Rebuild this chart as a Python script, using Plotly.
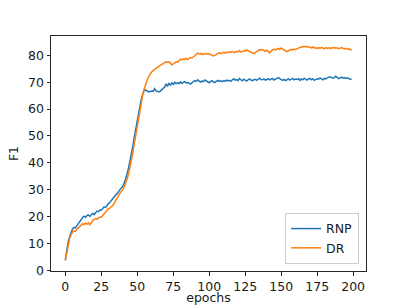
import plotly.graph_objects as go

epochs = list(range(200))

rnp = [
    3.8, 7.5, 10.5, 12.5, 14.3, 15.4, 15.9, 15.8, 16.5, 17.4,
    18.2, 18.9, 19.6, 20.1, 19.7, 20.3, 20.6, 20.0, 20.8, 21.2,
    20.7, 21.5, 22.0, 21.8, 22.4, 22.3, 23.0, 23.6, 23.4, 24.2,
    24.8, 25.3, 26.1, 26.8, 27.4, 28.0, 28.5, 29.4, 30.0, 30.6,
    31.3, 32.5, 34.0, 36.0, 38.2, 40.6, 43.5, 46.5, 49.8, 53.0,
    56.2, 59.4, 62.0, 64.2, 65.8, 67.2, 67.0, 66.6, 66.4, 66.5,
    66.7, 66.6, 67.6, 66.8, 66.5, 66.4, 66.7, 67.2, 67.9, 68.2,
    69.4, 68.6, 69.5, 68.9, 69.7, 69.2, 70.0, 69.4, 69.8, 69.5,
    70.1, 69.6, 69.9, 70.2, 69.7, 69.9, 69.6, 69.3, 69.8, 70.2,
    70.6, 70.3, 70.9, 70.4, 70.0, 70.5, 70.2, 70.8, 70.4, 70.1,
    69.8, 70.3, 70.6, 70.0, 69.9, 70.4, 70.7, 70.3, 70.5, 70.2,
    70.6, 70.4, 70.8, 70.5, 70.7, 70.3, 70.9, 71.3, 70.8, 71.0,
    70.6, 71.4, 70.9, 70.5, 71.1, 70.7, 70.4, 70.9, 71.2, 70.8,
    70.6, 70.9, 71.1, 70.7, 71.3, 71.5, 71.0, 70.9, 71.2, 70.8,
    71.0, 71.3, 70.9, 71.1, 71.4, 70.8, 71.0, 71.2, 71.7, 71.3,
    71.1, 70.7, 71.0, 70.6, 70.9, 71.2, 70.8, 71.1, 71.4, 70.9,
    71.2, 71.0, 71.3, 70.7, 71.2, 70.9, 71.5, 71.1, 70.8, 71.2,
    71.4, 70.9, 71.3, 70.7, 71.0, 71.3, 71.1, 71.6, 71.2, 70.9,
    71.4, 71.2, 71.6, 71.9, 72.0, 71.7, 71.5, 71.8, 72.2, 71.7,
    71.3, 71.6, 71.9, 71.5, 71.7, 71.4, 71.6, 71.3, 71.2, 71.1,
]

dr = [
    3.6, 6.8, 10.2, 11.8, 13.2, 14.2, 14.6, 14.5, 15.2, 15.8,
    16.3, 16.9, 17.3, 17.0, 17.5, 17.1, 17.6, 16.9, 17.8, 18.4,
    18.9, 19.2, 19.0, 19.5, 19.8, 19.7, 20.3, 20.8, 21.4, 22.3,
    23.0, 23.1, 23.6, 24.2, 25.0, 26.1, 27.0, 27.8, 28.7, 29.3,
    30.0, 31.0, 32.3, 34.0, 36.0, 38.4, 41.0, 44.0, 47.2, 50.5,
    54.0, 57.5, 60.8, 63.6, 65.9, 67.8, 69.6, 71.0, 72.2, 73.2,
    73.8, 74.3, 74.8, 75.2, 75.5, 75.9, 76.3, 76.7, 77.1, 77.3,
    77.5, 77.4, 77.6, 77.2, 76.4, 76.8, 77.3, 77.6, 77.4, 78.1,
    78.6, 78.3, 78.7, 78.5, 78.9, 78.4, 78.8, 79.2, 79.0, 79.5,
    79.9, 80.4, 80.8, 80.5, 80.7, 80.3, 80.6, 80.4, 80.7, 80.5,
    80.6, 80.3, 80.1, 79.8, 80.0, 80.4, 80.7, 81.0, 80.6, 80.9,
    81.1, 80.8, 81.2, 81.0, 81.3, 81.1, 81.4, 81.2, 81.0, 81.5,
    81.3, 81.7, 81.2, 81.5, 81.8, 81.6, 82.0, 81.7, 81.4, 81.1,
    80.8, 80.6, 81.0, 81.4, 81.8, 82.1, 81.9, 82.2, 81.8, 81.5,
    81.9, 81.3, 80.9, 81.6, 82.0, 82.3, 82.0, 82.4, 82.6, 82.2,
    82.7, 82.3, 81.9, 81.6, 81.4, 81.7, 82.0, 82.2, 82.0, 82.3,
    82.1, 82.5, 82.7, 82.9, 83.1, 83.3, 83.2, 83.4, 83.1, 83.3,
    83.0, 82.8, 83.1, 82.7, 82.9, 82.5, 82.9, 82.6, 83.0, 82.7,
    82.4, 82.9, 82.6, 82.8, 82.5, 82.9, 82.7, 83.0, 82.6, 82.8,
    82.5, 82.7, 82.9, 82.6, 82.4, 82.6, 82.3, 82.4, 82.1, 81.9,
]

x_ticks = [0, 25, 50, 75, 100, 125, 150, 175, 200]
y_ticks = [0, 10, 20, 30, 40, 50, 60, 70, 80]

FONT = "DejaVu Sans"
FS = 12.5

fig = go.Figure()
fig.add_trace(go.Scatter(x=epochs, y=rnp, mode="lines", name="RNP",
                         line=dict(color="#1f77b4", width=1.5)))
fig.add_trace(go.Scatter(x=epochs, y=dr, mode="lines", name="DR",
                         line=dict(color="#ff7f0e", width=1.5)))

axis_common = dict(
    showline=True, linecolor="#262626", linewidth=1, mirror=True,
    showgrid=False, zeroline=False, automargin=False,
    ticks="outside", ticklen=3.5, tickwidth=1, tickcolor="#262626",
    tickfont=dict(family=FONT, size=FS, color="#1a1a1a"),
)

fig.update_layout(
    width=407, height=305,
    margin=dict(l=51, r=41, t=36, b=34),
    paper_bgcolor="white", plot_bgcolor="white",
    font=dict(family=FONT, size=FS, color="#1a1a1a"),
    xaxis=dict(range=[-9.95, 208.95], tickvals=x_ticks,
               title=dict(text="epochs", standoff=3,
                          font=dict(family=FONT, size=FS)),
               **axis_common),
    yaxis=dict(range=[-0.3, 87.2], tickvals=y_ticks,
               title=dict(text="F1", standoff=6,
                          font=dict(family=FONT, size=FS)),
               **axis_common),
    legend=dict(x=0.978, y=0.03, xanchor="right", yanchor="bottom",
                bgcolor="white", bordercolor="#cccccc", borderwidth=1,
                font=dict(family=FONT, size=FS)),
    showlegend=True,
)

fig.write_html(
    "out.html",
    config={"displayModeBar": False},
    post_script="document.body.style.margin='0';document.body.style.overflow='hidden';",
)
